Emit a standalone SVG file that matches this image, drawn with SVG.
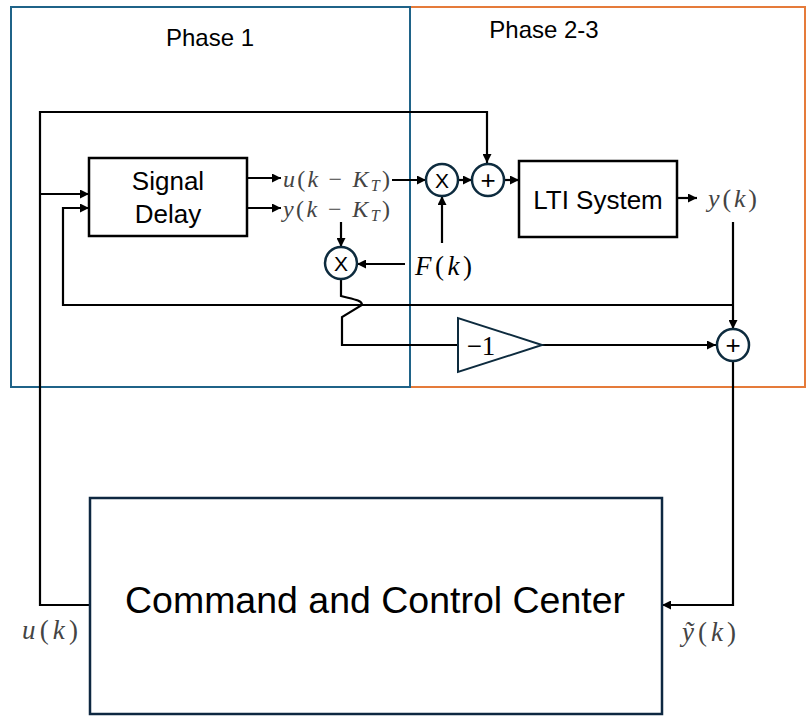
<svg xmlns="http://www.w3.org/2000/svg" width="809" height="721" viewBox="0 0 809 721">
<defs>
<marker id="arr" viewBox="0 0 10 10" refX="10" refY="5" markerWidth="9" markerHeight="9" markerUnits="userSpaceOnUse" orient="auto">
<path d="M0,0 L10,5 L0,10 z" fill="#000"/>
</marker>
<style>
.phase{fill:none;stroke-width:2}
.blk{fill:#fff;stroke:#000;stroke-width:2.5}
.cc{fill:#fff;stroke:#0e2841;stroke-width:2.5}
.op{fill:#fff;stroke:#0d2b3e;stroke-width:2.5}
.wire{fill:none;stroke:#000;stroke-width:2.2}
.sans{font-family:"Liberation Sans","Open Sans",Arial,sans-serif;fill:#000}
.math{font-family:"Liberation Serif","DejaVu Serif",serif;fill:#444}
.it{font-style:italic}
</style>
</defs>
<rect width="809" height="721" fill="#fff"/>

<g id="phase23">
<rect class="phase" x="410" y="7" width="395" height="380" stroke="#e57b3a"/>
<text class="sans" x="544" y="38" font-size="24" text-anchor="middle">Phase 2-3</text>
</g>
<g id="phase1">
<rect class="phase" x="11" y="7" width="399" height="380" stroke="#1f6388"/>
<text class="sans" x="210" y="46" font-size="24" text-anchor="middle">Phase 1</text>
</g>

<g id="connectors">
<path class="wire" d="M90,605 H40 V112 H487 V163" marker-end="url(#arr)"/>
<path class="wire" d="M40,194 H89" marker-end="url(#arr)"/>
<path class="wire" d="M733,305 H63 V208 H89" marker-end="url(#arr)"/>
<path class="wire" d="M247,178 H281" marker-end="url(#arr)"/>
<path class="wire" d="M247,208 H281" marker-end="url(#arr)"/>
<path class="wire" d="M392,180 H426" marker-end="url(#arr)"/>
<path class="wire" d="M458,180 H472" marker-end="url(#arr)"/>
<path class="wire" d="M504,180 H519" marker-end="url(#arr)"/>
<path class="wire" d="M677,198 H697" marker-end="url(#arr)"/>
<path class="wire" d="M442,243 V196" marker-end="url(#arr)"/>
<path class="wire" d="M405,264 H357" marker-end="url(#arr)"/>
<path class="wire" d="M341,222 V247" marker-end="url(#arr)"/>
<path class="wire" d="M341,279 V296 C352,299 362,300 362,305 L342,317 V345 H458"/>
<path class="wire" d="M542,345 H716" marker-end="url(#arr)"/>
<path class="wire" d="M733,222 V329" marker-end="url(#arr)"/>
<path class="wire" d="M733,361 V605 H662" marker-end="url(#arr)"/>
</g>

<g id="signal-delay">
<rect class="blk" x="89" y="158" width="158" height="78"/>
<text class="sans" x="168" y="190" font-size="26" text-anchor="middle">Signal</text>
<text class="sans" x="168" y="223" font-size="26" text-anchor="middle">Delay</text>
</g>

<g id="lti-system">
<rect class="blk" x="519" y="161" width="158" height="76"/>
<text class="sans" x="598" y="209" font-size="26" text-anchor="middle">LTI System</text>
</g>

<g id="mult-top">
<circle class="op" cx="442" cy="180" r="16"/>
<text class="sans" x="442" y="188" font-size="21" text-anchor="middle">X</text>
</g>
<g id="sum-top">
<circle class="op" cx="488" cy="180" r="16"/>
<text class="sans" x="488" y="189" font-size="26" text-anchor="middle">+</text>
</g>
<g id="mult-low">
<circle class="op" cx="341" cy="263" r="16"/>
<text class="sans" x="341" y="271" font-size="21" text-anchor="middle">X</text>
</g>
<g id="sum-out">
<circle class="op" cx="733" cy="345" r="16"/>
<text class="sans" x="733" y="354" font-size="26" text-anchor="middle">+</text>
</g>

<g id="gain">
<polygon points="458,318 458,372 542,345" fill="#fff" stroke="#0d2b3e" stroke-width="2"/>
<text x="481" y="355" font-size="27" text-anchor="middle" font-family="Liberation Serif,serif" fill="#000">−1</text>
</g>

<g id="command-center">
<rect class="cc" x="90" y="498" width="572" height="216"/>
<text class="sans" x="375" y="613" font-size="37" text-anchor="middle" textLength="500" lengthAdjust="spacingAndGlyphs">Command and Control Center</text>
</g>

<g id="labels">
<text class="math" x="283" y="187" font-size="24" textLength="107" lengthAdjust="spacing"><tspan class="it">u</tspan>(<tspan class="it">k</tspan> − <tspan class="it">K</tspan><tspan class="it" font-size="16" dy="4">T</tspan><tspan dy="-4">)</tspan></text>
<text class="math" x="283" y="217" font-size="24" textLength="107" lengthAdjust="spacing"><tspan class="it">y</tspan>(<tspan class="it">k</tspan> − <tspan class="it">K</tspan><tspan class="it" font-size="16" dy="4">T</tspan><tspan dy="-4">)</tspan></text>
<text class="math" x="708" y="207" font-size="26" textLength="49" lengthAdjust="spacing"><tspan class="it">y</tspan>(<tspan class="it">k</tspan>)</text>
<text class="math" x="415" y="275" font-size="27" style="fill:#000" textLength="57" lengthAdjust="spacing"><tspan class="it">F</tspan>(<tspan class="it">k</tspan>)</text>
<text class="math" x="22" y="639" font-size="27" textLength="56" lengthAdjust="spacing"><tspan class="it">u</tspan>(<tspan class="it">k</tspan>)</text>
<text class="math" x="682" y="641" font-size="27" textLength="54" lengthAdjust="spacing"><tspan class="it">ỹ</tspan>(<tspan class="it">k</tspan>)</text>
</g>
</svg>
